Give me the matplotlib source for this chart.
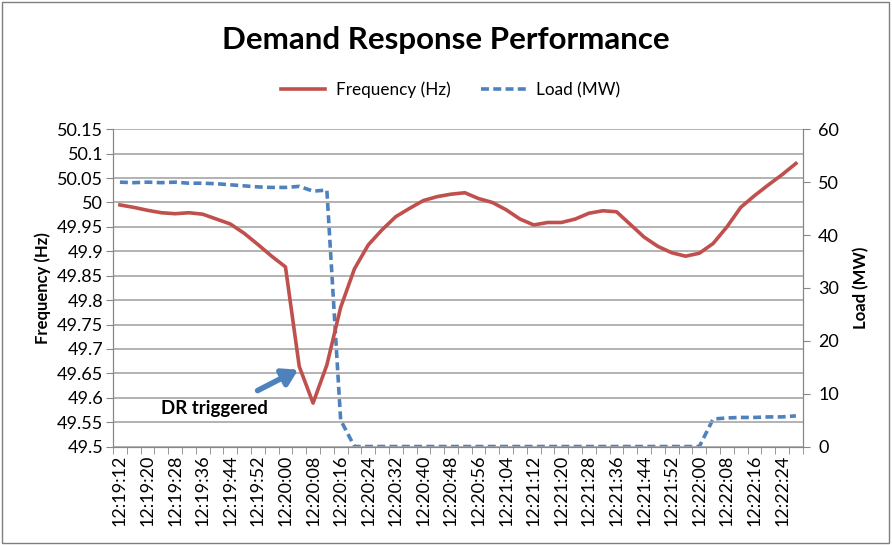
import matplotlib.pyplot as plt
from matplotlib.patches import Rectangle
from matplotlib.ticker import FixedLocator

plt.rcParams['font.family'] = ['Lato', 'DejaVu Sans']

# sample times, every 4 seconds from 12:19:12
times = []
for s in range(0, 200, 4):
    t = 19 * 60 + 12 + s
    times.append('12:%02d:%02d' % (t // 60, t % 60))

freq = [49.995, 49.99, 49.984, 49.979, 49.977, 49.979, 49.976, 49.966, 49.956, 49.937,
        49.914, 49.89, 49.868, 49.664, 49.589, 49.667, 49.785, 49.864, 49.913, 49.944,
        49.971, 49.988, 50.004, 50.012, 50.017, 50.02, 50.008, 50.0, 49.985, 49.966,
        49.954, 49.959, 49.959, 49.966, 49.978, 49.983, 49.981, 49.955, 49.929, 49.91,
        49.897, 49.89, 49.896, 49.916, 49.95, 49.99, 50.014, 50.036, 50.057, 50.08]

load = [50.0, 49.9, 50.0, 49.9, 50.0, 49.8, 49.8, 49.7, 49.5, 49.3,
        49.1, 49.0, 49.0, 49.2, 48.3, 48.5, 5.0, 0, 0, 0,
        0, 0, 0, 0, 0, 0, 0, 0, 0, 0,
        0, 0, 0, 0, 0, 0, 0, 0, 0, 0,
        0, 0, 0, 5.2, 5.4, 5.5, 5.5, 5.6, 5.6, 5.8]

left_ticks = [49.5, 49.55, 49.6, 49.65, 49.7, 49.75, 49.8, 49.85, 49.9, 49.95,
              50, 50.05, 50.1, 50.15]
left_labels = ['49.5', '49.55', '49.6', '49.65', '49.7', '49.75', '49.8', '49.85',
               '49.9', '49.95', '50', '50.05', '50.1', '50.15']

red = '#C0504D'
blue = '#4F81BD'
grid_c = '#A6A6A6'
axis_c = '#868686'

fig = plt.figure(figsize=(8.92, 5.45), dpi=100)
ax = fig.add_axes([0.1267, 0.1807, 0.7733, 0.5821])
ax2 = ax.twinx()

x = list(range(len(times)))
l1, = ax.plot(x, freq, color=red, lw=2.6, label='Frequency (Hz)', zorder=3)
l2, = ax2.plot(x, load, color=blue, lw=2.6, ls=(0, (2.2, 1.2)), label='Load (MW)')

ax.set_ylim(49.5, 50.15)
ax.set_yticks(left_ticks)
ax.set_yticklabels(left_labels)
ax2.set_ylim(0, 60)
ax2.set_yticks(range(0, 61, 10))
ax.set_xlim(-0.5, len(times) - 0.5)

ax.set_xticks(x[::2])
ax.set_xticklabels(times[::2], rotation=90)
ax.xaxis.set_minor_locator(FixedLocator([i - 0.5 for i in range(len(times) + 1)]))
ax.tick_params(axis='x', which='major', length=0, pad=6)
ax.tick_params(axis='x', which='minor', length=5, color=axis_c)
ax.tick_params(axis='y', length=5, color=axis_c, pad=2)
ax2.tick_params(axis='y', length=5, color=axis_c, pad=6)
for a in (ax, ax2):
    a.tick_params(labelsize=13, labelcolor='black')
    a.spines['top'].set_visible(False)
    for sp in ('left', 'right', 'bottom'):
        a.spines[sp].set_color(axis_c)

ax.grid(axis='y', color=grid_c, lw=1.2)
ax.set_axisbelow(True)
ax.set_zorder(ax2.get_zorder() + 1)
ax.patch.set_visible(False)

ax.set_ylabel('Frequency (Hz)', fontsize=12, fontweight='bold', labelpad=4)
ax2.set_ylabel('Load (MW)', fontsize=12, fontweight='bold', labelpad=10)

fig.text(0.5, 0.927, 'Demand Response Performance', ha='center', va='center',
         fontsize=22.5, fontweight='bold')
fig.legend(handles=[l1, l2], loc='center', bbox_to_anchor=(0.505, 0.835), ncol=2,
           frameon=False, fontsize=12.3, handlelength=2.6, handletextpad=0.6,
           columnspacing=1.8)

ax.annotate('', xy=(13.1, 49.66), xytext=(9.8, 49.612),
            arrowprops=dict(arrowstyle='-|>,head_length=0.9,head_width=0.55',
                            color=blue, lw=4))
ax.text(3.0, 49.578, 'DR triggered', fontsize=13.4, fontweight='bold', va='center')

fig.patches.append(Rectangle((0.002, 0.004), 0.995, 0.992, transform=fig.transFigure,
                             fill=False, edgecolor='#7F7F7F', lw=1))

fig.savefig('out.png', dpi=100)
